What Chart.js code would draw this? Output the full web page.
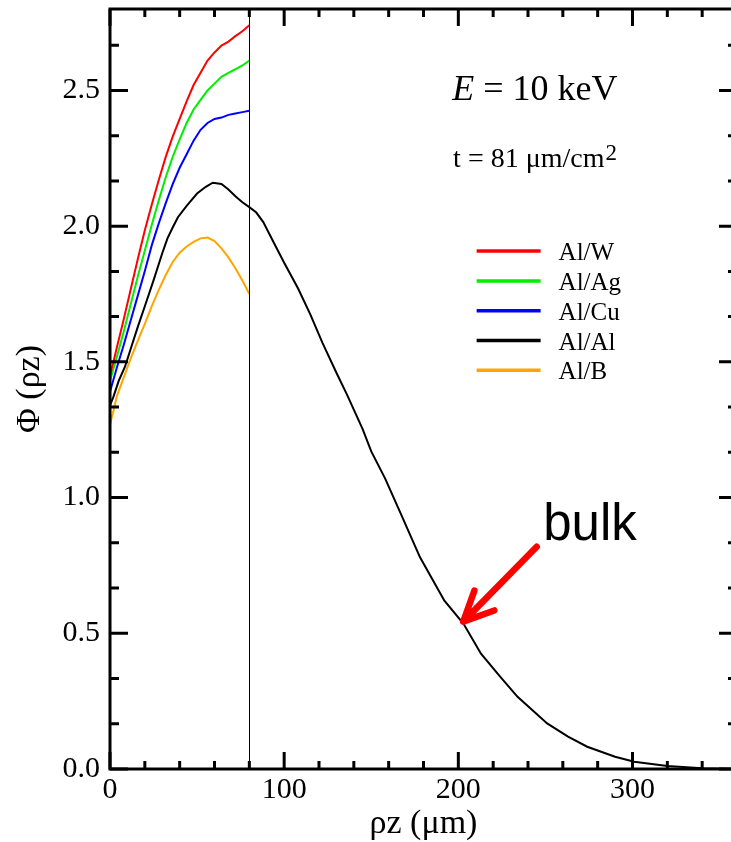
<!DOCTYPE html>
<html>
<head>
<meta charset="utf-8">
<script src="https://cdn.jsdelivr.net/npm/chart.js@4.4.0/dist/chart.umd.min.js"></script>
<style>
  html, body { margin: 0; padding: 0; background: #fff; overflow: hidden; }
  canvas { display: block; }
</style>
</head>
<body>
<canvas id="phiChart" width="745" height="842"></canvas>
<script>
// depth grid (rho z, um) of the coated samples, film ends at 80
const filmDepth = [0, 2, 4, 8, 12, 16, 20, 24, 28, 32, 36, 40, 44, 48, 52, 56, 60, 64, 68, 72, 76, 80];
const phiW  = [1.45, 1.50, 1.555, 1.66, 1.77, 1.88, 1.985, 2.08, 2.17, 2.255, 2.33, 2.395, 2.46, 2.52, 2.565, 2.61, 2.64, 2.665, 2.68, 2.70, 2.718, 2.74];
const phiAg = [1.43, 1.475, 1.52, 1.615, 1.715, 1.815, 1.91, 2.005, 2.095, 2.18, 2.255, 2.32, 2.38, 2.43, 2.465, 2.50, 2.525, 2.55, 2.565, 2.578, 2.592, 2.61];
const phiCu = [1.39, 1.435, 1.48, 1.565, 1.655, 1.745, 1.835, 1.93, 2.01, 2.085, 2.155, 2.215, 2.265, 2.315, 2.355, 2.38, 2.395, 2.40, 2.41, 2.415, 2.42, 2.425];
const phiB  = [1.27, 1.32, 1.375, 1.445, 1.515, 1.578, 1.64, 1.705, 1.765, 1.82, 1.868, 1.902, 1.925, 1.942, 1.955, 1.958, 1.945, 1.918, 1.885, 1.845, 1.80, 1.75];

// bulk Al/Al curve
const bulkDepth = [0, 2, 5, 8.6, 12, 16, 20, 25, 30, 33, 36, 39, 44, 50, 55, 59, 64, 68, 72, 76, 80, 84, 88, 94, 100, 108, 115, 122, 130, 136, 145, 150, 158, 167, 178, 192, 203, 213, 224, 234, 251, 263, 274, 290, 301, 320, 340, 360];
const phiAl = [1.34, 1.372, 1.43, 1.482, 1.55, 1.63, 1.705, 1.80, 1.90, 1.955, 1.995, 2.033, 2.075, 2.12, 2.145, 2.16, 2.155, 2.135, 2.11, 2.088, 2.07, 2.05, 2.015, 1.94, 1.865, 1.77, 1.675, 1.57, 1.46, 1.38, 1.253, 1.17, 1.07, 0.94, 0.78, 0.62, 0.535, 0.425, 0.34, 0.266, 0.168, 0.119, 0.082, 0.045, 0.027, 0.011, 0.003, 0.0];

const seriesLabels = ['Al/W', 'Al/Ag', 'Al/Cu', 'Al/Al', 'Al/B'];
const seriesColors = ['#ff0000', '#00ee00', '#0000ff', '#000000', '#ffa500'];
const xTicks = [0, 100, 200, 300];
const yTicks = [0, 0.5, 1.0, 1.5, 2.0, 2.5];
const filmEdge = 80;

const serif = "'Liberation Serif', 'Times New Roman', serif";

function pts(xs, ys) {
  return xs.map((v, i) => ({ x: v, y: ys[i] }));
}

const series = [
  pts(filmDepth, phiW),
  pts(filmDepth, phiAg),
  pts(filmDepth, phiCu),
  pts(bulkDepth, phiAl),
  pts(filmDepth, phiB)
];

// frame, inward ticks, film line, notes, legend, arrow
const decor = {
  id: 'decor',
  afterDatasetsDraw(chart) {
    const { ctx, chartArea: a, scales: { x, y } } = chart;
    ctx.save();

    ctx.strokeStyle = '#000';
    ctx.lineWidth = 1;
    const xf = Math.round(x.getPixelForValue(filmEdge)) + 0.5;
    ctx.beginPath();
    ctx.moveTo(xf, a.top);
    ctx.lineTo(xf, a.bottom);
    ctx.stroke();

    ctx.lineWidth = 3;
    ctx.strokeRect(a.left, a.top, a.right - a.left, a.bottom - a.top);

    ctx.beginPath();
    for (let v = 0; v <= x.max; v += 20) {
      const px = x.getPixelForValue(v);
      const len = v % 100 === 0 ? 17 : 8;
      ctx.moveTo(px, a.bottom); ctx.lineTo(px, a.bottom - len);
      ctx.moveTo(px, a.top); ctx.lineTo(px, a.top + len);
    }
    for (let k = 0; k / 6 <= y.max; k++) {
      const py = y.getPixelForValue(k / 6);
      const len = k % 3 === 0 ? 18 : 9;
      ctx.moveTo(a.left, py); ctx.lineTo(a.left + len, py);
      ctx.moveTo(a.right, py); ctx.lineTo(a.right - len, py);
    }
    ctx.stroke();

    // energy / thickness notes
    ctx.fillStyle = '#000';
    ctx.textBaseline = 'alphabetic';
    let tx = x.getPixelForValue(196.5);
    let ty = y.getPixelForValue(2.465);
    ctx.font = 'italic 36px ' + serif;
    ctx.fillText('E', tx, ty);
    tx += ctx.measureText('E').width;
    ctx.font = '36px ' + serif;
    ctx.fillText(' = 10 keV', tx, ty);

    tx = x.getPixelForValue(197);
    ty = y.getPixelForValue(2.219);
    ctx.font = '28px ' + serif;
    ctx.fillText('t = 81 \u03bcm/cm', tx, ty);
    tx += ctx.measureText('t = 81 \u03bcm/cm').width + 1;
    ctx.font = '23px ' + serif;
    ctx.fillText('2', tx, ty - 7);

    // legend
    const lx = x.getPixelForValue(210.5);
    const ly0 = y.getPixelForValue(1.908);
    chart.data.datasets.forEach((ds, i) => {
      const ly = ly0 + i * 29.8;
      ctx.strokeStyle = ds.borderColor;
      ctx.lineWidth = 3.5;
      ctx.beginPath();
      ctx.moveTo(lx, ly);
      ctx.lineTo(lx + 64, ly);
      ctx.stroke();
      ctx.fillStyle = '#000';
      ctx.font = '25px ' + serif;
      ctx.fillText(ds.label, lx + 82, ly + 9);
    });

    // bulk label with arrow
    ctx.font = "51px 'Liberation Sans', Arial, sans-serif";
    ctx.fillText('bulk', x.getPixelForValue(248.7), y.getPixelForValue(0.844));

    const tipX = x.getPixelForValue(202.8), tipY = y.getPixelForValue(0.543);
    const tailX = x.getPixelForValue(245), tailY = y.getPixelForValue(0.819);
    const ang = Math.atan2(tailY - tipY, tailX - tipX);
    ctx.strokeStyle = '#ff0000';
    ctx.lineWidth = 6.5;
    ctx.lineCap = 'round';
    ctx.lineJoin = 'round';
    ctx.beginPath();
    ctx.moveTo(tailX, tailY);
    ctx.lineTo(tipX, tipY);
    ctx.moveTo(tipX + 33 * Math.cos(ang - 0.43), tipY + 33 * Math.sin(ang - 0.43));
    ctx.lineTo(tipX, tipY);
    ctx.lineTo(tipX + 33 * Math.cos(ang + 0.45), tipY + 33 * Math.sin(ang + 0.45));
    ctx.stroke();

    ctx.restore();
  }
};

new Chart(document.getElementById('phiChart'), {
  type: 'line',
  data: {
    datasets: series.map((d, i) => ({
      label: seriesLabels[i],
      data: d,
      borderColor: seriesColors[i],
      borderWidth: 2,
      pointRadius: 0,
      fill: false,
      tension: 0
    }))
  },
  options: {
    responsive: false,
    animation: false,
    devicePixelRatio: 1,
    layout: { padding: { top: 9, right: 8, left: 0, bottom: 0 } },
    plugins: { legend: { display: false }, tooltip: { enabled: false } },
    scales: {
      x: {
        type: 'linear',
        min: 0,
        max: 360,
        grid: { display: false, drawTicks: false },
        border: { display: false },
        afterBuildTicks: s => { s.ticks = xTicks.map(v => ({ value: v })); },
        afterFit: s => { s.height = 73; s.paddingLeft = 0; s.paddingRight = 0; },
        ticks: {
          padding: 3,
          maxRotation: 0,
          color: '#000',
          font: { family: serif, size: 30 },
          callback: v => String(v)
        },
        title: {
          display: true,
          text: '\u03c1z (\u03bcm)',
          color: '#000',
          font: { family: serif, size: 34 },
          padding: { top: 0, bottom: -2 }
        }
      },
      y: {
        min: 0,
        max: 2.8,
        grid: { display: false, drawTicks: false },
        border: { display: false },
        afterBuildTicks: s => { s.ticks = yTicks.map(v => ({ value: v })); },
        afterFit: s => { s.width = 110; s.paddingTop = 0; s.paddingBottom = 0; },
        ticks: {
          padding: 10,
          color: '#000',
          font: { family: serif, size: 30 },
          callback: v => Number(v).toFixed(1)
        },
        title: {
          display: true,
          text: '\u03a6 (\u03c1z)',
          color: '#000',
          font: { family: serif, size: 34 },
          padding: { top: 10, bottom: 0 }
        }
      }
    }
  },
  plugins: [decor]
});
</script>
</body>
</html>
